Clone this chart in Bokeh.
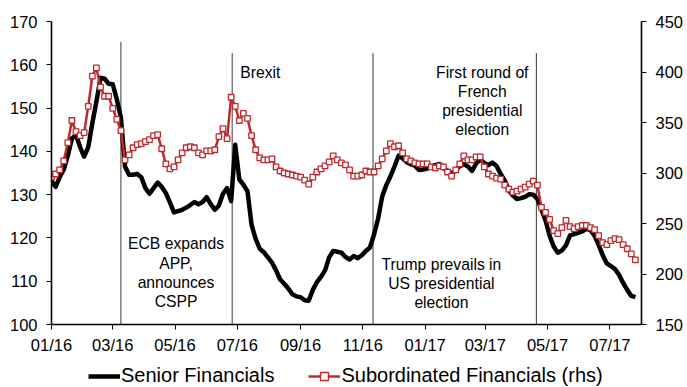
import numpy as np
import pandas as pd
from bokeh.plotting import figure
from bokeh.layouts import column
from bokeh.models import (Range1d, LinearAxis, FixedTicker, DatetimeTickFormatter,
                          Legend, LegendItem, Label, ColumnDataSource)
from bokeh.embed import file_html
from bokeh.resources import INLINE

# Observations every 4 calendar days from 1 Jan 2016
start_date = "2016-01-01"
step_days = 4

senior_financials = [
    133.2, 131.8, 134.0, 135.8, 139.0, 143.0, 143.8, 141.0, 138.8, 141.0,
    146.5, 151.5, 157.0, 156.8, 155.6, 155.5, 152.0, 147.8, 136.5, 134.6,
    134.6, 134.8, 134.0, 131.5, 130.2, 131.5, 132.8, 131.8, 130.4, 128.2,
    125.9, 126.2, 126.5, 127.0, 127.6, 128.3, 127.8, 128.3, 129.4, 127.8,
    126.5, 127.5, 130.2, 131.5, 128.5, 141.5, 133.5, 132.3, 130.8, 123.0,
    119.8, 117.5, 116.7, 115.5, 114.3, 112.5, 110.4, 109.4, 108.3, 107.0,
    106.5, 106.3, 105.6, 105.5, 108.0, 109.8, 111.0, 112.5, 115.5, 117.0,
    116.8, 116.6, 115.6, 115.0, 115.8, 115.3, 116.0, 117.0, 117.8, 120.8,
    124.5, 129.6, 132.2, 134.2, 136.5, 139.0, 138.4, 137.5, 137.0, 136.7,
    135.7, 135.8, 136.0, 136.5, 136.8, 137.1, 136.2, 135.4, 134.9, 135.6,
    136.6, 137.0, 136.5, 135.5, 137.2, 138.2, 137.3, 136.8, 137.4, 136.6,
    134.8, 133.3, 131.0, 129.8, 129.0, 129.2, 129.5, 130.1, 130.0, 129.0,
    126.5, 124.0, 120.5, 118.0, 116.6, 117.1, 118.3, 120.6, 120.9, 121.2,
    121.5, 122.1, 121.8, 120.5, 118.4, 116.0, 114.1, 113.5, 112.8, 111.5,
    109.6, 108.0, 106.6, 106.3,
]

subordinated_financials = [
    296, 299, 303, 312, 330, 352, 341, 337, 340, 366,
    396, 404, 385, 376, 376, 364, 353, 342, 313, 318,
    325, 328, 329, 331, 333, 337, 338, 324, 309, 304,
    306, 313, 320, 325, 326, 325, 320, 318, 322, 322,
    323, 336, 344, 334, 375, 366, 352, 359, 354, 337,
    323, 315, 313, 313, 314, 306, 302, 300, 299, 298,
    297, 296, 293, 289, 296, 301, 304, 307, 311, 317,
    313, 310, 308, 303, 297, 297, 298, 302, 301, 301,
    307, 314, 322, 329, 326, 327, 320, 314, 312, 310,
    309, 309, 309, 306, 305, 307, 306, 301, 297, 303,
    309, 317, 313, 313, 316, 316, 306, 299, 297, 295,
    294, 288, 284, 281, 282, 284, 286, 289, 292, 288,
    266, 261, 254, 243, 240, 246, 253, 247, 245, 247,
    248, 248, 246, 244, 238, 231, 229, 233, 235, 234,
    229, 225, 220, 214,
]

tick_dates = ["2016-01-01", "2016-03-01", "2016-05-01", "2016-07-01", "2016-09-01",
              "2016-11-01", "2017-01-01", "2017-03-01", "2017-05-01", "2017-07-01"]

event_dates = ["2016-03-09", "2016-06-26", "2016-11-11", "2017-04-20"]
event_texts = ["ECB expands\nAPP,\nannounces\nCSPP", "Brexit",
               "Trump prevails in\nUS presidential\nelection",
               "First round of\nFrench\npresidential\nelection"]

series_names = ["Senior Financials", "Subordinated Financials (rhs)"]

dates = pd.Timestamp(start_date) + pd.to_timedelta(
    np.arange(len(senior_financials)) * step_days, unit="D")
src = ColumnDataSource(dict(date=dates, senior=senior_financials,
                            sub=subordinated_financials))

FONT = "Liberation Sans"
RED = "#C0282D"
BLACK_STYLE = dict(line_color="black", line_width=4.5, line_join="round")
RED_LINE_STYLE = dict(line_color=RED, line_width=2.5)
RED_PT_STYLE = dict(marker="square", size=5.5, fill_color="white",
                    line_color=RED, line_width=1.3)

p = figure(width=687, height=360, output_backend="svg", toolbar_location=None,
           x_axis_type="datetime",
           x_range=Range1d(pd.Timestamp("2016-01-01"), pd.Timestamp("2017-08-01")),
           y_range=Range1d(100, 170),
           min_border_left=51, min_border_right=46,
           min_border_top=21, min_border_bottom=36)
p.extra_y_ranges = {"rhs": Range1d(150, 450)}
p.outline_line_color = None
p.xgrid.visible = False
p.ygrid.visible = False

# Axes
ms = [pd.Timestamp(d).value // 10**6 for d in tick_dates]
p.xaxis.ticker = FixedTicker(ticks=ms)
fmt = "%m/%y"
p.xaxis.formatter = DatetimeTickFormatter(
    milliseconds=fmt, seconds=fmt, minsec=fmt, minutes=fmt, hourmin=fmt,
    hours=fmt, days=fmt, months=fmt, years=fmt)
p.yaxis.ticker = FixedTicker(ticks=list(range(100, 171, 10)))

rax = LinearAxis(y_range_name="rhs", ticker=FixedTicker(ticks=list(range(150, 451, 50))))
p.add_layout(rax, "right")

for ax in [p.xaxis[0], p.yaxis[0], rax]:
    ax.axis_line_color = "black"
    ax.axis_line_width = 1.6
    ax.major_tick_line_color = "black"
    ax.major_tick_line_width = 1
    ax.major_tick_in = 0
    ax.major_tick_out = 5
    ax.minor_tick_line_color = None
    ax.major_label_text_font = FONT
    ax.major_label_text_font_size = "16.5px"
    ax.major_label_text_color = "black"
    ax.major_label_standoff = 9
p.xaxis.major_label_standoff = 6

# Event markers
tops = [165.3, 162.7, 162.7, 162.7]
p.segment(x0=pd.to_datetime(event_dates), x1=pd.to_datetime(event_dates),
          y0=[100] * 4, y1=tops, line_color="#3a3a3a", line_width=1)

# Series
p.line("date", "senior", source=src, **BLACK_STYLE)
p.line("date", "sub", source=src, y_range_name="rhs", **RED_LINE_STYLE)
p.scatter("date", "sub", source=src, y_range_name="rhs", **RED_PT_STYLE)

# Event annotations
label_pos = [
    ("2016-05-02", 112.0, "center"),
    ("2016-07-04", 158.2, "left"),
    ("2017-01-17", 109.4, "center"),
    ("2017-02-26", 151.7, "center"),
]
for (d, y, align), txt in zip(label_pos, event_texts):
    p.add_layout(Label(x=pd.Timestamp(d).value // 10**6, y=y, text=txt,
                       text_align=align, text_baseline="middle",
                       text_font=FONT, text_font_size="15.7px",
                       text_line_height=1.12, text_color="black"))

# Legend strip under the chart; its renderers sit outside the strip's ranges
lg = figure(width=687, height=27, output_backend="svg", toolbar_location=None,
            x_range=Range1d(0, 1), y_range=Range1d(0, 1),
            x_axis_location=None, y_axis_location=None,
            min_border=0, outline_line_color=None)
lg.grid.visible = False
k_black = lg.line("date", "senior", source=src, **BLACK_STYLE)
k_red_l = lg.line("date", "sub", source=src, **RED_LINE_STYLE)
k_red_p = lg.scatter("date", "sub", source=src, **RED_PT_STYLE)
legend = Legend(items=[LegendItem(label=series_names[0], renderers=[k_black]),
                       LegendItem(label=series_names[1], renderers=[k_red_l, k_red_p])],
                orientation="horizontal", location=(37, 0),
                label_text_font=FONT, label_text_font_size="20px",
                label_text_color="black",
                label_height=20, glyph_width=32, glyph_height=20,
                label_standoff=1, spacing=34, padding=0, margin=0,
                border_line_color=None, background_fill_alpha=0)
lg.add_layout(legend)

layout = column(p, lg, spacing=0)
open("out.html", "w").write(file_html(layout, INLINE))
